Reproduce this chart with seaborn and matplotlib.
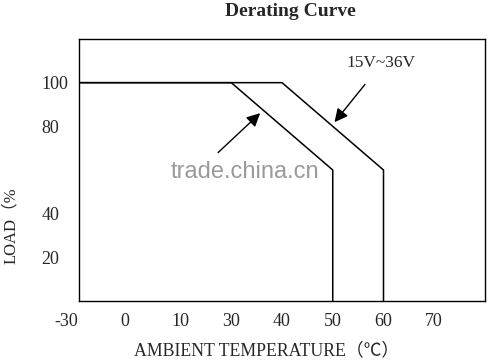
import matplotlib
matplotlib.use("Agg")
import matplotlib.pyplot as plt
import matplotlib.transforms as mtransforms
import seaborn as sns
import pandas as pd

# ---- data ----
temp_labels = ["-30", "0", "10", "30", "40", "50", "60", "70"]
temp_positions = [0, 1, 2, 3, 4, 5, 6, 7]
load_ticks = [20, 40, 80, 100]

curve_low_x = [0, 3, 5, 5]
curve_low_y = [100, 100, 60, 0]
curve_high_x = [0, 4, 6, 6]
curve_high_y = [100, 100, 60, 0]

series_label = "15V~36V"

sns.set_style("white")
plt.rcParams['font.family'] = ['Liberation Serif', 'Noto Sans CJK SC', 'DejaVu Sans']

fig = plt.figure(figsize=(4.89, 3.60), dpi=100)
ax = fig.add_axes([79/489, 59/360, 406/489, 262/360])

df = pd.concat([
    pd.DataFrame({"x": curve_low_x, "y": curve_low_y, "s": "low"}),
    pd.DataFrame({"x": curve_high_x, "y": curve_high_y, "s": "high"}),
])
for name, g in df.groupby("s"):
    sns.lineplot(data=g, x="x", y="y", sort=False, estimator=None, color="black",
                 linewidth=1.1, ax=ax, legend=False)

ax.set_xlim(0, 8)
ax.set_ylim(0, 120)

for sp in ax.spines.values():
    sp.set_visible(True)
    sp.set_color("black")
    sp.set_linewidth(1.0)

ax.set_xticks(temp_positions)
ax.set_xticklabels(temp_labels, fontsize=13)
ax.set_yticks(load_ticks)
ax.set_yticklabels([str(v) for v in load_ticks], fontsize=13, ha="left")
ax.tick_params(axis="x", direction="in", length=10, width=1.0, pad=9, color="black")
ax.tick_params(axis="y", direction="in", length=12.5, width=1.0, pad=27, color="black")

# shift the first two x labels slightly left as in the reference
xl = ax.get_xticklabels()
offs = [-13, -5]
for lab, o in zip(xl[:2], offs):
    lab.set_transform(lab.get_transform() + mtransforms.ScaledTranslation(o/100, 0, fig.dpi_scale_trans))

ax.set_xlabel("AMBIENT TEMPERATURE（℃）", fontsize=12.8)
ax.xaxis.set_label_coords((267-79)/406, -(342-301)/262)
ax.set_ylabel("LOAD（%", fontsize=12)
ax.yaxis.set_label_coords(-(79-19)/406, (301-226)/262)

fig.text(290/489, 1 - 11/360, "Derating Curve", ha="center", va="center",
         fontsize=14, fontweight="bold", family="Liberation Serif")

# arrows
ax.annotate("", xy=(3.61, 86.9), xytext=(2.70, 67.1),
            arrowprops=dict(arrowstyle="-|>", color="black", lw=1.0, mutation_scale=20))
ax.annotate("", xy=(5.00, 80.9), xytext=(5.67, 100.2),
            arrowprops=dict(arrowstyle="-|>", color="black", lw=1.0, mutation_scale=20))
ax.text((381-79)/50.75, (301-63)/2.183, series_label, ha="center", va="center", fontsize=12.5)

# watermark
ax.text((245-79)/50.75, (301-172)/2.183, "trade.china.cn", ha="center", va="center",
        fontsize=17, color="#9a9a9a", family="Liberation Sans")

fig.savefig("out.png", dpi=100)
